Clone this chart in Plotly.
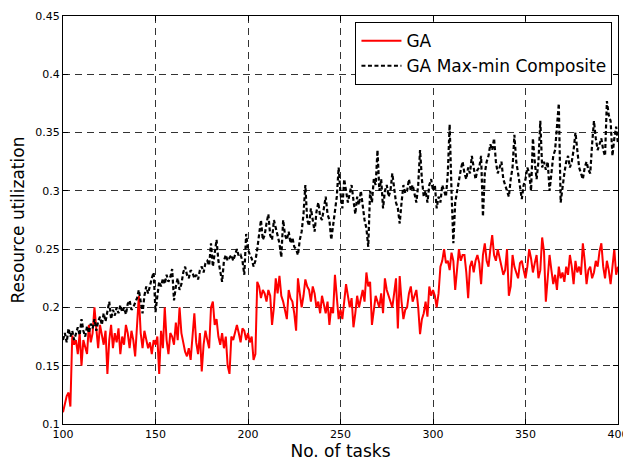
import plotly.graph_objects as go

tasks = list(range(100, 401))

ga = [
    0.110, 0.118, 0.124, 0.127, 0.115, 0.176, 0.168, 0.172, 0.160, 0.178,
    0.150, 0.172, 0.166, 0.160, 0.185, 0.170, 0.178, 0.200, 0.182, 0.165,
    0.185, 0.175, 0.168, 0.180, 0.143, 0.172, 0.185, 0.165, 0.178, 0.170,
    0.182, 0.160, 0.175, 0.168, 0.185, 0.178, 0.165, 0.180, 0.172, 0.158,
    0.190, 0.210, 0.178, 0.165, 0.180, 0.172, 0.165, 0.170, 0.160, 0.172,
    0.168, 0.175, 0.143, 0.180, 0.165, 0.200, 0.172, 0.160, 0.178, 0.175,
    0.168, 0.187, 0.172, 0.200, 0.178, 0.170, 0.162, 0.158, 0.165, 0.155,
    0.175, 0.195, 0.170, 0.160, 0.178, 0.145, 0.168, 0.180, 0.172, 0.165,
    0.200, 0.205, 0.185, 0.190, 0.175, 0.168, 0.178, 0.165, 0.175, 0.150,
    0.143, 0.175, 0.172, 0.180, 0.185, 0.178, 0.170, 0.182, 0.180, 0.172,
    0.178, 0.170, 0.175, 0.155, 0.160, 0.222, 0.218, 0.208, 0.215, 0.212,
    0.205, 0.215, 0.210, 0.185, 0.200, 0.225, 0.212, 0.227, 0.210, 0.205,
    0.198, 0.190, 0.215, 0.208, 0.205, 0.195, 0.180, 0.225, 0.212, 0.200,
    0.210, 0.224, 0.218, 0.215, 0.205, 0.218, 0.212, 0.200, 0.205, 0.195,
    0.210, 0.202, 0.195, 0.205, 0.185, 0.200, 0.195, 0.228, 0.205, 0.190,
    0.198, 0.190, 0.205, 0.220, 0.210, 0.200, 0.208, 0.183, 0.195, 0.210,
    0.200, 0.208, 0.215, 0.205, 0.230, 0.218, 0.222, 0.185, 0.200, 0.210,
    0.205, 0.200, 0.212, 0.195, 0.225, 0.215, 0.210, 0.205, 0.200, 0.212,
    0.225, 0.182, 0.227, 0.205, 0.190, 0.198, 0.200, 0.212, 0.218, 0.205,
    0.210, 0.215, 0.200, 0.177, 0.190, 0.195, 0.205, 0.192, 0.218, 0.210,
    0.215, 0.210, 0.200, 0.212, 0.235, 0.240, 0.250, 0.238, 0.240, 0.232,
    0.247, 0.240, 0.215, 0.235, 0.250, 0.240, 0.245, 0.245, 0.230, 0.208,
    0.235, 0.240, 0.230, 0.240, 0.245, 0.238, 0.220, 0.245, 0.255, 0.240,
    0.235, 0.250, 0.262, 0.245, 0.240, 0.250, 0.242, 0.235, 0.228, 0.232,
    0.250, 0.210, 0.218, 0.245, 0.235, 0.230, 0.225, 0.238, 0.240, 0.232,
    0.225, 0.235, 0.250, 0.242, 0.230, 0.238, 0.245, 0.225, 0.232, 0.260,
    0.248, 0.205, 0.225, 0.245, 0.232, 0.220, 0.228, 0.215, 0.235, 0.225,
    0.230, 0.222, 0.235, 0.228, 0.245, 0.235, 0.220, 0.240, 0.230, 0.235,
    0.228, 0.255, 0.240, 0.220, 0.232, 0.235, 0.225, 0.230, 0.240, 0.235,
    0.248, 0.255, 0.235, 0.225, 0.240, 0.232, 0.220, 0.238, 0.250, 0.228,
    0.235,
]

ga_maxmin = [
    0.172, 0.178, 0.170, 0.182, 0.175, 0.180, 0.172, 0.178, 0.183, 0.176,
    0.190, 0.180, 0.175, 0.184, 0.178, 0.186, 0.182, 0.190, 0.180, 0.188,
    0.192, 0.185, 0.195, 0.188, 0.196, 0.205, 0.190, 0.198, 0.193, 0.200,
    0.195, 0.202, 0.196, 0.200, 0.194, 0.203, 0.206, 0.198, 0.200, 0.204,
    0.208, 0.215, 0.205, 0.195, 0.210, 0.218, 0.212, 0.220, 0.225, 0.230,
    0.196, 0.210, 0.222, 0.218, 0.225, 0.220, 0.228, 0.222, 0.226, 0.233,
    0.206, 0.218, 0.225, 0.215, 0.220, 0.230, 0.235, 0.228, 0.225, 0.232,
    0.230, 0.225, 0.228, 0.224, 0.232, 0.235, 0.230, 0.238, 0.240, 0.236,
    0.255, 0.235, 0.248, 0.258, 0.240, 0.232, 0.222, 0.240, 0.245, 0.240,
    0.243, 0.245, 0.240, 0.246, 0.250, 0.244, 0.245, 0.240, 0.228, 0.263,
    0.250, 0.245, 0.242, 0.235, 0.240, 0.250, 0.262, 0.275, 0.258, 0.262,
    0.272, 0.280, 0.262, 0.258, 0.275, 0.268, 0.262, 0.255, 0.243, 0.275,
    0.262, 0.258, 0.265, 0.255, 0.260, 0.252, 0.250, 0.245, 0.258, 0.265,
    0.280, 0.305, 0.275, 0.270, 0.285, 0.275, 0.265, 0.282, 0.290, 0.278,
    0.275, 0.285, 0.295, 0.280, 0.275, 0.258, 0.270, 0.285, 0.295, 0.320,
    0.298, 0.285, 0.310, 0.300, 0.290, 0.298, 0.305, 0.292, 0.280, 0.295,
    0.288, 0.300, 0.285, 0.275, 0.268, 0.252, 0.300, 0.290, 0.310, 0.305,
    0.335, 0.300, 0.310, 0.285, 0.300, 0.305, 0.295, 0.300, 0.315, 0.300,
    0.290, 0.285, 0.272, 0.290, 0.305, 0.298, 0.300, 0.310, 0.300, 0.305,
    0.298, 0.290, 0.305, 0.335, 0.310, 0.295, 0.300, 0.290, 0.305, 0.310,
    0.300, 0.305, 0.285, 0.295, 0.290, 0.305, 0.300, 0.295, 0.315, 0.357,
    0.300, 0.255, 0.290, 0.300, 0.310, 0.318, 0.325, 0.315, 0.310, 0.320,
    0.315, 0.330, 0.320, 0.310, 0.318, 0.320, 0.330, 0.278, 0.315, 0.325,
    0.330, 0.340, 0.335, 0.345, 0.325, 0.315, 0.320, 0.325, 0.310, 0.305,
    0.300, 0.295, 0.310, 0.320, 0.348, 0.325, 0.315, 0.305, 0.293, 0.305,
    0.310, 0.320, 0.315, 0.300, 0.345, 0.325, 0.310, 0.325, 0.360, 0.320,
    0.325, 0.318, 0.325, 0.300, 0.315, 0.330, 0.335, 0.360, 0.375, 0.290,
    0.305, 0.315, 0.325, 0.330, 0.320, 0.325, 0.335, 0.350, 0.335, 0.320,
    0.315, 0.310, 0.320, 0.325, 0.318, 0.315, 0.340, 0.360, 0.345, 0.335,
    0.340, 0.345, 0.335, 0.330, 0.377, 0.365, 0.360, 0.330, 0.345, 0.355,
    0.340,
]

x_ticks = [100, 150, 200, 250, 300, 350, 400]
y_ticks = [0.1, 0.15, 0.2, 0.25, 0.3, 0.35, 0.4, 0.45]
y_tick_labels = ["0.1", "0.15", "0.2", "0.25", "0.3", "0.35", "0.4", "0.45"]

FONT = "DejaVu Sans, Liberation Sans, Arial, sans-serif"

fig = go.Figure()
fig.add_trace(go.Scatter(
    x=tasks, y=ga, mode="lines", name="GA",
    line=dict(color="#ff0000", width=2),
))
fig.add_trace(go.Scatter(
    x=tasks, y=ga_maxmin, mode="lines", name="GA Max-min Composite",
    line=dict(color="#000000", width=2.2, dash="4px,2.5px"),
))

axis_common = dict(
    showline=True, linecolor="black", linewidth=1, mirror="allticks",
    ticks="inside", ticklen=5, tickcolor="black",
    showgrid=True, gridcolor="#333333", gridwidth=1, griddash="7px,5px",
    zeroline=False, automargin=False, ticklabeloverflow="allow",
    tickfont=dict(family=FONT, size=11, color="black"),
)

fig.update_xaxes(
    range=[100, 400], tickvals=x_ticks,
    title=dict(text="No. of tasks", font=dict(family=FONT, size=17, color="black"), standoff=4),
    **axis_common,
)
fig.update_yaxes(
    range=[0.1, 0.45], tickvals=y_ticks, ticktext=y_tick_labels,
    title=dict(text="Resource utilization", font=dict(family=FONT, size=17, color="black"), standoff=9),
    **axis_common,
)

# the page body adds an 8px offset, so the figure is sized to fit the window
fig.update_layout(
    width=623, height=456,
    margin=dict(l=54.5, r=12.5, t=8, b=40),
    paper_bgcolor="white", plot_bgcolor="white",
    font=dict(family=FONT, color="black"),
    showlegend=True,
    legend=dict(
        x=0.99, y=0.985, xanchor="right", yanchor="top",
        bgcolor="white", bordercolor="black", borderwidth=1,
        font=dict(family=FONT, size=17, color="black"),
        tracegroupgap=0, itemwidth=40,
    ),
)

fig.write_html("out.html")
